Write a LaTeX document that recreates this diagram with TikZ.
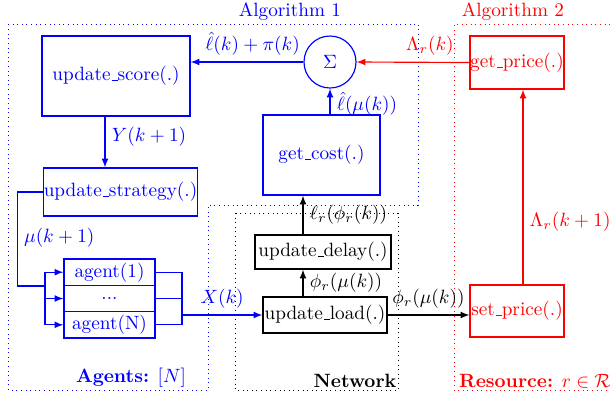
\documentclass[tikz,border=0pt]{standalone}
\usepackage{amssymb}
\usepackage{amsmath}
\usepackage{tikz}
\newlength{\pix}
\setlength{\pix}{0.52pt}
\newcommand{\us}{\leavevmode\kern.06em\vbox{\hrule width.3em}}

\begin{document}
\begin{tikzpicture}[x=\pix,y=-\pix,>=latex,semithick,
  fbox/.style={draw,rectangle,inner sep=0pt}]
\useasboundingbox (0,0) rectangle (610,394);
%areas
\draw[blue,dotted,thin] (8,24) -- (418,24) -- (418,205) -- (208,205)
                        -- (208,390) -- (8,390) -- cycle;
\node[blue] (alg1) at (290,12) {Algorithm 1};
\draw[red,dotted,thin] (610,24) -- (454,24) -- (454,390) -- (610,390);
\node[red] (alg2) at (513,12) {Algorithm 2};
\draw[dotted,thin] (235,213) rectangle (398,390);
%agent side
\node[fbox,blue,minimum width=148\pix,minimum height=80\pix] (score) at (116,76) {update\us score(.)};
\node[fbox,blue,minimum width=151\pix,minimum height=48\pix] (strategy) at (120.5,192) {update\us strategy(.)};
\foreach \i/\y/\t in {1/272.2/{agent(1)},2/298.5/{...},3/324.8/{agent(N)}}
{
  \node[fbox,blue,minimum width=91\pix,minimum height=26.3\pix] (agent\i) at (109.5,\y) {\t};
}
%sum and cost
\node[draw,circle,blue,minimum size=52\pix,inner sep=0pt] (sigma) at (330,62) {$\Sigma$};
\node[fbox,blue,minimum width=117\pix,minimum height=80\pix] (cost) at (321.5,155) {get\us cost(.)};
%network
\node[fbox,minimum width=136\pix,minimum height=34\pix] (delay) at (323,252) {update\us delay(.)};
\node[fbox,minimum width=124\pix,minimum height=36\pix] (load) at (325,315) {update\us load(.)};
%resource
\node[fbox,red,minimum width=94\pix,minimum height=53\pix] (getprice) at (517,62.5) {get\us price(.)};
\node[fbox,red,minimum width=94\pix,minimum height=52\pix] (setprice) at (517,311) {set\us price(.)};
%columns for the links
\coordinate (ycol) at (105,0);
\coordinate (busin) at (45,0);
\coordinate (busout) at (182,0);
\coordinate (ncol) at (303,0);
\coordinate (rcol) at (523,0);
%links (agents)
\draw[blue,->] (score.south -| ycol) -- node[right,pos=0.4] {$Y(k+1)$} (strategy.north -| ycol);
\draw[blue] (strategy.west) -- ++(-26,0) |- node[right,pos=0.245] {$\mu(k+1)$} (agent1.south -| busin);
\draw[blue] (busin |- agent1.west) -- (busin |- agent3.west);
\foreach \i in {1,2,3}
{
  \draw[blue,->] (busin |- agent\i.west) -- (agent\i.west);
  \draw[blue] (agent\i.east) -- (busout |- agent\i.east);
}
\draw[blue] (busout |- agent1.east) -- (busout |- agent3.east);
\draw[blue,->] (busout |- load.west) -- node[above] {$X(k)$} (load.west);
%links (network)
\draw[->] (load.north -| ncol) -- node[right] {$\phi_r(\mu(k))$} (delay.south -| ncol);
\draw[->] (delay.north -| ncol) -- node[right] {$\ell_r(\phi_r(k))$} (cost.south -| ncol);
\draw[->] (load.east) -- node[above] {$\phi_r(\mu(k))$} (setprice.west |- load.east);
%links (costs and prices)
\draw[blue,->] (sigma.south |- cost.north) -- node[right,pos=0.4] {$\hat{\ell}(\mu(k))$} (sigma.south);
\draw[blue,->] (sigma.west) -- node[above,pos=0.45] {$\hat{\ell}(k)+\pi(k)$} (score.east |- sigma.west);
\draw[red,->] (getprice.west) -- node[above,pos=0.35] {$\Lambda_r(k)$} (sigma.east);
\draw[red,->] (setprice.north -| rcol) -- node[right,pos=0.32] {$\Lambda_r(k+1)$} (getprice.south -| rcol);
%area names
\node[blue] (agentslbl) at (131,378) {\textbf{Agents:} $[N]$};
\node (netlbl) at (355,381) {\textbf{Network}};
\node[red] (reslbl) at (535,381) {\textbf{Resource:} $r\in\mathcal{R}$};
\end{tikzpicture}
\end{document}
